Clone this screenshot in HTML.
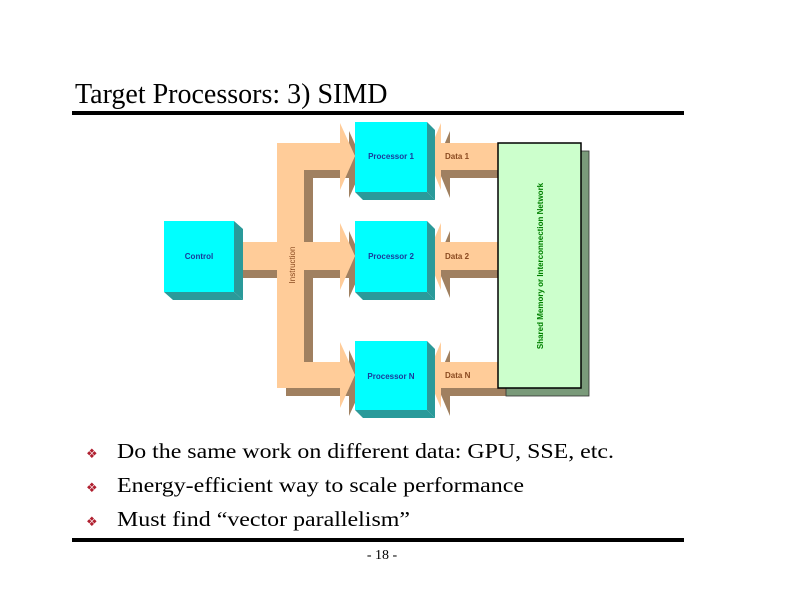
<!DOCTYPE html>
<html><head><meta charset="utf-8"><style>
html,body{margin:0;padding:0;background:#fff;}
svg{display:block;}
</style></head><body>
<svg width="792" height="612" viewBox="0 0 792 612" xmlns="http://www.w3.org/2000/svg">
<rect width="792" height="612" fill="#fff"/>
<text x="75" y="103" font-family="Liberation Serif, serif" font-size="28" fill="#000">Target Processors:  3) SIMD</text>
<rect x="72" y="111" width="612" height="4" fill="#000"/>

<defs>
<g id="bus">
  <rect x="277" y="143" width="27" height="245"/>
  <rect x="304" y="143" width="37" height="27"/>
  <rect x="304" y="242" width="37" height="28"/>
  <rect x="304" y="362" width="37" height="26"/>
  <rect x="234" y="242" width="43" height="28"/>
  <polygon points="340,123 355,156 340,190"/>
  <polygon points="340,223 355,256 340,290"/>
  <polygon points="340,342 355,375 340,408"/>
  <rect x="440" y="143" width="58" height="27"/>
  <rect x="440" y="242" width="58" height="28"/>
  <rect x="440" y="362" width="58" height="26"/>
  <polygon points="441,123 427,156 441,190"/>
  <polygon points="441,223 427,256 441,290"/>
  <polygon points="441,342 427,375 441,408"/>
</g>
<g id="box3">
</g>
</defs>
<use href="#bus" x="9" y="8" fill="#a08060"/>
<use href="#bus" fill="#ffcc99"/>

<!-- Memory -->
<rect x="506" y="151" width="83" height="245" fill="#7a9a7a" stroke="#333" stroke-width="0.8"/>
<rect x="498" y="143" width="83" height="245" fill="#ccffcc" stroke="#000" stroke-width="1.5"/>
<text transform="translate(543,266) rotate(-90)" text-anchor="middle" font-family="Liberation Sans, sans-serif" font-size="8" font-weight="bold" fill="#008000">Shared Memory or Interconnection Network</text>

<!-- boxes -->
<g font-family="Liberation Sans, sans-serif" font-size="8" font-weight="bold" fill="#1a3a9a">
<polygon points="164,292 234,292 243,300 173,300" fill="#2a9a9a"/>
<polygon points="234,221 243,229 243,300 234,292" fill="#2a9a9a"/>
<rect x="164" y="221" width="70" height="71" fill="#00ffff"/>
<text x="199" y="259" text-anchor="middle" fill="#1a3a9a">Control</text>

<polygon points="355,192 427,192 435,200 363,200" fill="#2a9a9a"/>
<polygon points="427,122 435,130 435,200 427,192" fill="#2a9a9a"/>
<rect x="355" y="122" width="72" height="70" fill="#00ffff"/>
<text x="391" y="159" text-anchor="middle">Processor 1</text>

<polygon points="355,292 427,292 435,300 363,300" fill="#2a9a9a"/>
<polygon points="427,221 435,229 435,300 427,292" fill="#2a9a9a"/>
<rect x="355" y="221" width="72" height="71" fill="#00ffff"/>
<text x="391" y="259" text-anchor="middle">Processor 2</text>

<polygon points="355,410 427,410 435,418 363,418" fill="#2a9a9a"/>
<polygon points="427,341 435,349 435,418 427,410" fill="#2a9a9a"/>
<rect x="355" y="341" width="72" height="69" fill="#00ffff"/>
<text x="391" y="379" text-anchor="middle">Processor N</text>
</g>
<g font-family="Liberation Sans, sans-serif" font-size="8" fill="#8a4a20" font-weight="bold">
<text x="445" y="159">Data 1</text>
<text x="445" y="259">Data 2</text>
<text x="445" y="378">Data N</text>
<text transform="translate(295,265) rotate(-90)" text-anchor="middle" font-weight="normal">Instruction</text>
</g>

<g font-family="Liberation Serif, serif" font-size="21" fill="#000">
<text x="86" y="458" fill="#b02030" font-size="13">❖</text>
<text x="86" y="492" fill="#b02030" font-size="13">❖</text>
<text x="86" y="526" fill="#b02030" font-size="13">❖</text>
<text x="117" y="458" textLength="497" lengthAdjust="spacingAndGlyphs">Do the same work on different data: GPU, SSE, etc.</text>
<text x="117" y="492" textLength="407" lengthAdjust="spacingAndGlyphs">Energy-efficient way to scale performance</text>
<text x="117" y="526" textLength="293" lengthAdjust="spacingAndGlyphs">Must find “vector parallelism”</text>
</g>
<rect x="72" y="538" width="612" height="4" fill="#000"/>
<text x="382" y="559" text-anchor="middle" font-family="Liberation Serif, serif" font-size="14">- 18 -</text>
</svg>
</body></html>
